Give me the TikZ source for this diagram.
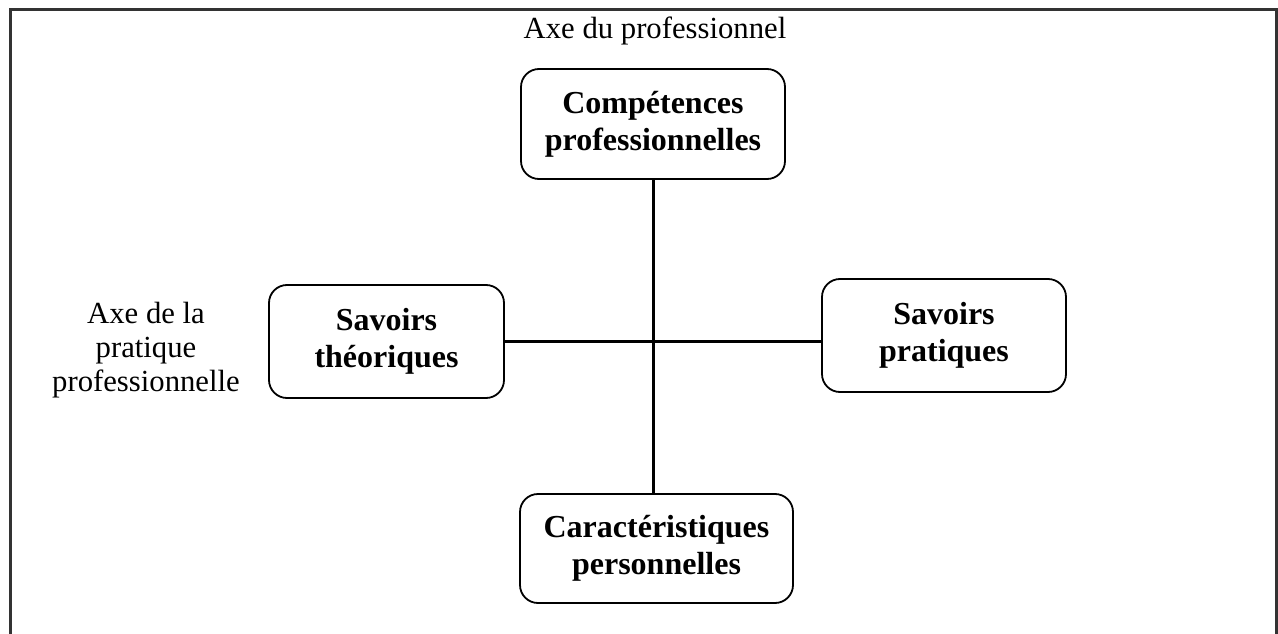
\documentclass[tikz,border=0pt]{standalone}
\usepackage{fontspec}
\setmainfont{Liberation Serif}
\begin{document}
\begin{tikzpicture}[x=1pt,y=-1pt,
  frameline/.style={line width=3pt,draw=black!80},
  boxnode/.style={draw,line width=1.8pt,rounded corners=18pt,align=center,inner sep=0pt,
    font=\fontsize{32}{37}\selectfont\bfseries},
  axislabel/.style={inner sep=0pt,font=\fontsize{30.7}{34}\selectfont},
  link/.style={line width=3pt}]
\useasboundingbox (0,0) rectangle (1278,634);
\draw[frameline] (10.5,634) -- (10.5,9.5) -- (1276.5,9.5) -- (1276.5,634);
\node[axislabel,anchor=base] (axetop) at (655,39) {Axe du professionnel};
\node[axislabel,align=center] (axeleft) at (146,350) {Axe de la\\pratique\\professionnelle};
\node[boxnode,minimum width=264pt,minimum height=110pt] (top) at (653,124) {Compétences\\professionnelles};
\node[boxnode,minimum width=273pt,minimum height=109pt] (bot) at (656.5,548.5) {Caractéristiques\\personnelles};
\node[boxnode,minimum width=235pt,minimum height=113pt] (left) at (386.5,341.5) {Savoirs\\théoriques};
\node[boxnode,minimum width=244pt,minimum height=113pt] (right) at (944,335.5) {Savoirs\\pratiques};
\draw[link] (top.south) -- (top.south |- bot.north);
\draw[link] (left.east) -- (left.east -| right.west);
\end{tikzpicture}
\end{document}
